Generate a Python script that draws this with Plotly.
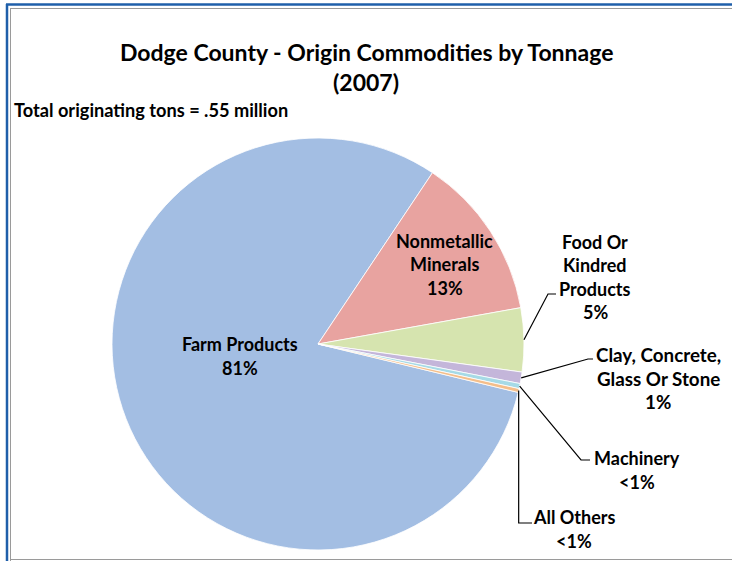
import math
import plotly.graph_objects as go

# ---- data ----
categories = ["Farm Products", "Nonmetallic Minerals", "Food Or Kindred Products",
              "Clay, Concrete, Glass Or Stone", "Machinery", "All Others"]
tonnage_share = [80.6, 12.8, 5.0, 0.9, 0.4, 0.3]
pct_labels = ["81%", "13%", "5%", "1%", "<1%", "<1%"]
label_lines = [["Farm Products"], ["Nonmetallic", "Minerals"], ["Food Or", "Kindred", "Products"],
               ["Clay, Concrete,", "Glass Or Stone"], ["Machinery"], ["All Others"]]
colors = ["#A3BEE3", "#E8A3A0", "#D6E4AF", "#C4B6DA", "#A6DAE6", "#F4BE8A"]

title_line1 = "Dodge County - Origin Commodities by Tonnage"
title_line2 = "(2007)"
subtitle = "Total originating tons = .55 million"

W, H = 732, 561
CX, CY, R = 318, 344, 206
ROT = 103.6  # start angle of first slice, clockwise from 12 o'clock

def px(x):
    return x / W

def py(y):
    return 1 - y / H

fig = go.Figure(go.Pie(
    labels=categories, values=tonnage_share, sort=False, direction="clockwise",
    rotation=ROT, textinfo="none", hoverinfo="label+percent",
    marker=dict(colors=colors, line=dict(color="rgba(255,255,255,0.8)", width=1)),
    domain=dict(x=[px(CX - R), px(CX + R)], y=[py(CY + R), py(CY - R)]),
    showlegend=False,
))

# label placement (block center, pixels) and line spacing
label_pos = [(240, 356), (445, 264), (595, 277), (658, 378), (637, 470), (574, 529)]
label_size = [18, 18, 18, 18.8, 18, 18]
LS = 23.5
FONT = "Lato"
ann = []
for i, (lines, pct) in enumerate(zip(label_lines, pct_labels)):
    all_lines = lines + [pct]
    bx, by = label_pos[i]
    n = len(all_lines)
    for j, t in enumerate(all_lines):
        yy = by + (j - (n - 1) / 2) * LS
        ann.append(dict(x=px(bx), y=py(yy), xref="paper", yref="paper", text="<b>%s</b>" % t,
                        showarrow=False, xanchor="center", yanchor="middle",
                        font=dict(family=FONT, size=label_size[i], color="black")))

ann.append(dict(x=px(366), y=py(52), xref="paper", yref="paper", text="<b>%s</b>" % title_line1,
                showarrow=False, xanchor="center", yanchor="middle",
                font=dict(family=FONT, size=23, color="black")))
ann.append(dict(x=px(366), y=py(82), xref="paper", yref="paper", text="<b>%s</b>" % title_line2,
                showarrow=False, xanchor="center", yanchor="middle",
                font=dict(family=FONT, size=23, color="black")))
ann.append(dict(x=px(12), y=py(110), xref="paper", yref="paper", text="<b>%s</b>" % subtitle,
                showarrow=False, xanchor="left", yanchor="middle",
                font=dict(family=FONT, size=18.2, color="black")))

# leader lines: start at slice mid-angle on the rim (computed from data)
total = sum(tonnage_share)
mid_angles = []
acc = ROT
for v in tonnage_share:
    span = v / total * 360
    mid_angles.append(acc + span / 2)
    acc += span

elbows = {2: [(548, 294), (556, 294)], 3: [(588, 359), (593, 359)],
          4: [(581, 460), (590, 460)], 5: [(524, 523), (532, 523)]}
shapes = []
for i, pts in elbows.items():
    a = math.radians(mid_angles[i])
    sx = CX + R * math.sin(a)
    sy = CY - R * math.cos(a)
    if i == 5:
        pts = [(sx, pts[0][1])] + [(pts[1][0], pts[1][1])]
    path = "M %f,%f" % (px(sx), py(sy))
    for (x, y) in pts:
        path += " L %f,%f" % (px(x), py(y))
    shapes.append(dict(type="path", path=path, xref="paper", yref="paper",
                       line=dict(color="black", width=1.2)))

# frame
blue = "#1F5FAA"
gray = "#9A9A9A"
shapes += [
    dict(type="line", xref="paper", yref="paper", x0=px(6), x1=1, y0=py(4.5), y1=py(4.5),
         line=dict(color=blue, width=2.5)),
    dict(type="line", xref="paper", yref="paper", x0=px(7), x1=px(7), y0=py(4), y1=0,
         line=dict(color=blue, width=2.5)),
    dict(type="line", xref="paper", yref="paper", x0=px(10), x1=1, y0=py(8.5), y1=py(8.5),
         line=dict(color=gray, width=1)),
    dict(type="line", xref="paper", yref="paper", x0=px(10.5), x1=px(10.5), y0=py(8), y1=0,
         line=dict(color=gray, width=1)),
    dict(type="line", xref="paper", yref="paper", x0=px(10), x1=1, y0=py(559.5), y1=py(559.5),
         line=dict(color=gray, width=1)),
]

fig.update_layout(width=W, height=H, margin=dict(l=0, r=0, t=0, b=0),
                  paper_bgcolor="white", plot_bgcolor="white",
                  annotations=ann, shapes=shapes)

fig.write_html("out.html", config={"displayModeBar": False},
               post_script="document.body.style.margin='0';")
